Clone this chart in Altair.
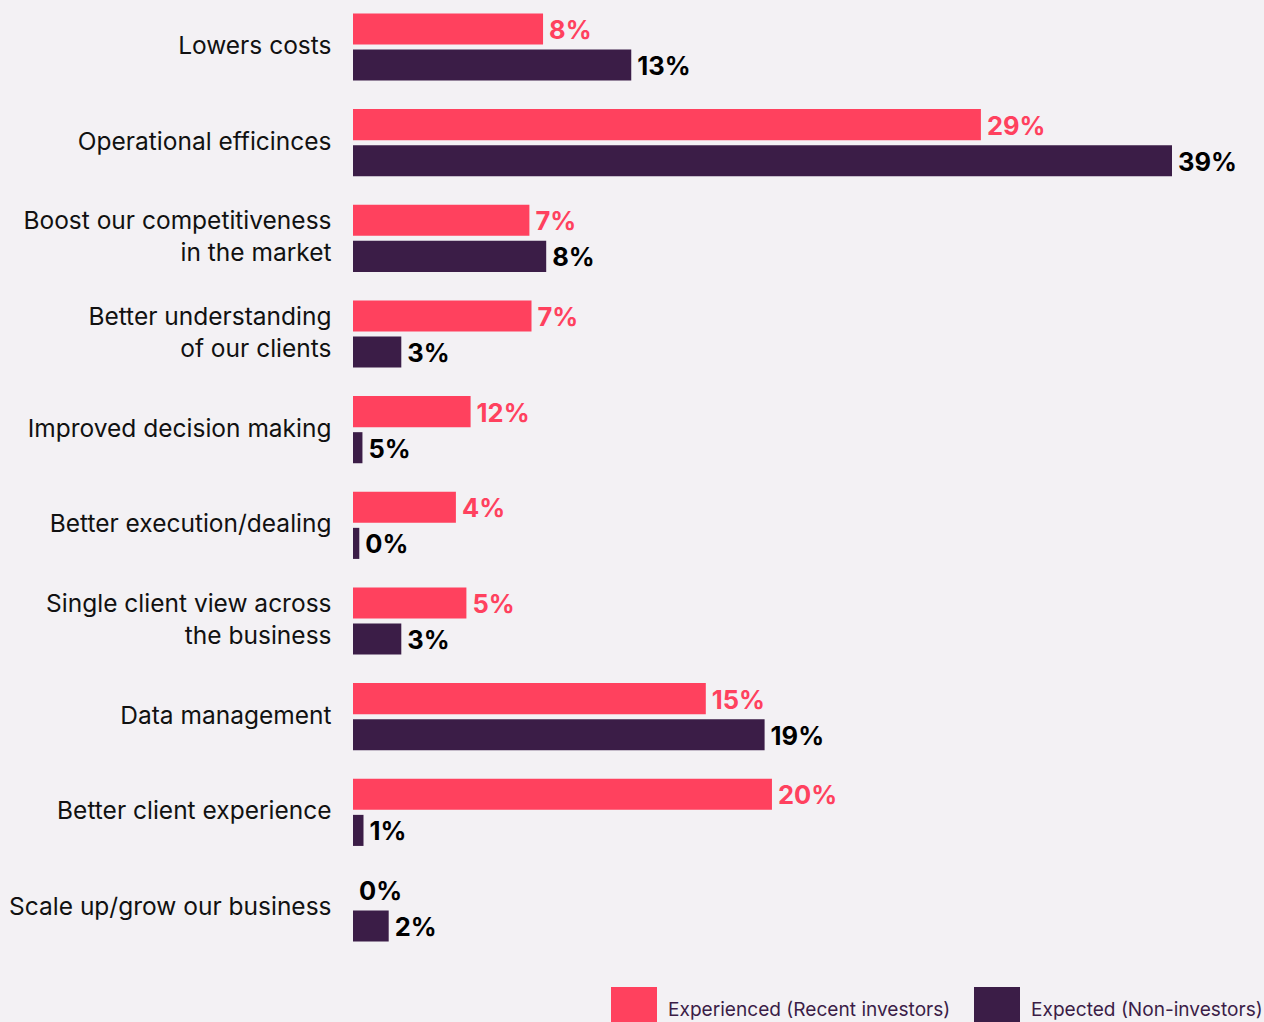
import altair as alt
import pandas as pd

categories = [
    "Lowers costs",
    "Operational efficinces",
    "Boost our competitiveness\nin the market",
    "Better understanding\nof our clients",
    "Improved decision making",
    "Better execution/dealing",
    "Single client view across\nthe business",
    "Data management",
    "Better client experience",
    "Scale up/grow our business",
]
series_names = ["Experienced (Recent investors)", "Expected (Non-investors)"]

# bar lengths as drawn in the picture
experienced_bar = [9.05, 29.9, 8.4, 8.5, 5.6, 4.9, 5.4, 16.8, 19.95, 0.0]
expected_bar = [13.25, 39.0, 9.2, 2.3, 0.45, 0.3, 2.3, 19.6, 0.5, 1.7]
# printed value labels
experienced_label = ["8%", "29%", "7%", "7%", "12%", "4%", "5%", "15%", "20%", "0%"]
expected_label = ["13%", "39%", "8%", "3%", "5%", "0%", "3%", "19%", "1%", "2%"]

rows = []
for i, c in enumerate(categories):
    rows.append({"category": c, "series": series_names[0], "value": experienced_bar[i], "label": experienced_label[i]})
    rows.append({"category": c, "series": series_names[1], "value": expected_bar[i], "label": expected_label[i]})
df = pd.DataFrame(rows)

PINK = "#FF415E"
DARK = "#3B1D47"
BG = "#F3F1F4"

y_enc = alt.Y(
    "category:N",
    sort=categories,
    scale=alt.Scale(paddingInner=0.298, paddingOuter=0.14),
    axis=alt.Axis(
        title=None, ticks=False, domain=False, labelPadding=22,
        labelFont="Inter", labelFontSize=24.5, labelColor="#111111",
        labelLimit=400, labelLineHeight=32,
        labelExpr="split(datum.label, '\\n')",
        labelOffset=alt.condition("indexof(datum.value, '\\n') >= 0", alt.value(-16), alt.value(0)),
    ),
)
yoff_enc = alt.YOffset("series:N", sort=series_names, scale=alt.Scale(paddingInner=0.139, paddingOuter=0))
x_enc = alt.X("value:Q", scale=alt.Scale(domain=[0, 43], nice=False), axis=None)

base = alt.Chart(df)

bars = base.mark_bar().encode(
    y=y_enc,
    yOffset=yoff_enc,
    x=x_enc,
    color=alt.Color(
        "series:N",
        sort=series_names,
        scale=alt.Scale(domain=series_names, range=[PINK, DARK]),
        legend=alt.Legend(
            orient="none", legendX=258, legendY=987, direction="horizontal",
            title=None, symbolType="square", symbolSize=2116, symbolStrokeWidth=0,
            symbolOpacity=1, labelFont="Inter", labelFontSize=19.1, labelColor=DARK,
            labelOffset=11, columnPadding=23, padding=0, labelLimit=400,
        ),
    ),
)

labels = base.mark_text(
    align="left", baseline="middle", dx=6, dy=2,
    font="Inter", fontWeight="bold", fontSize=25.5,
).transform_calculate(
    lblcolor=f"(datum.series == '{series_names[1]}' || datum.label == '0%') ? '#000000' : '{PINK}'"
).encode(
    y=y_enc,
    yOffset=yoff_enc,
    x=x_enc,
    text="label:N",
    color=alt.Color("lblcolor:N", scale=None),
)

chart = (
    alt.layer(bars, labels)
    .properties(
        width=903, height=955,
        autosize=alt.AutoSizeParams(type="none"),
        padding={"left": 353, "top": 0, "right": 8, "bottom": 67},
        background=BG,
    )
    .configure_view(strokeWidth=0)
)

chart.save("out.html", embed_options={"renderer": "svg", "actions": False})
